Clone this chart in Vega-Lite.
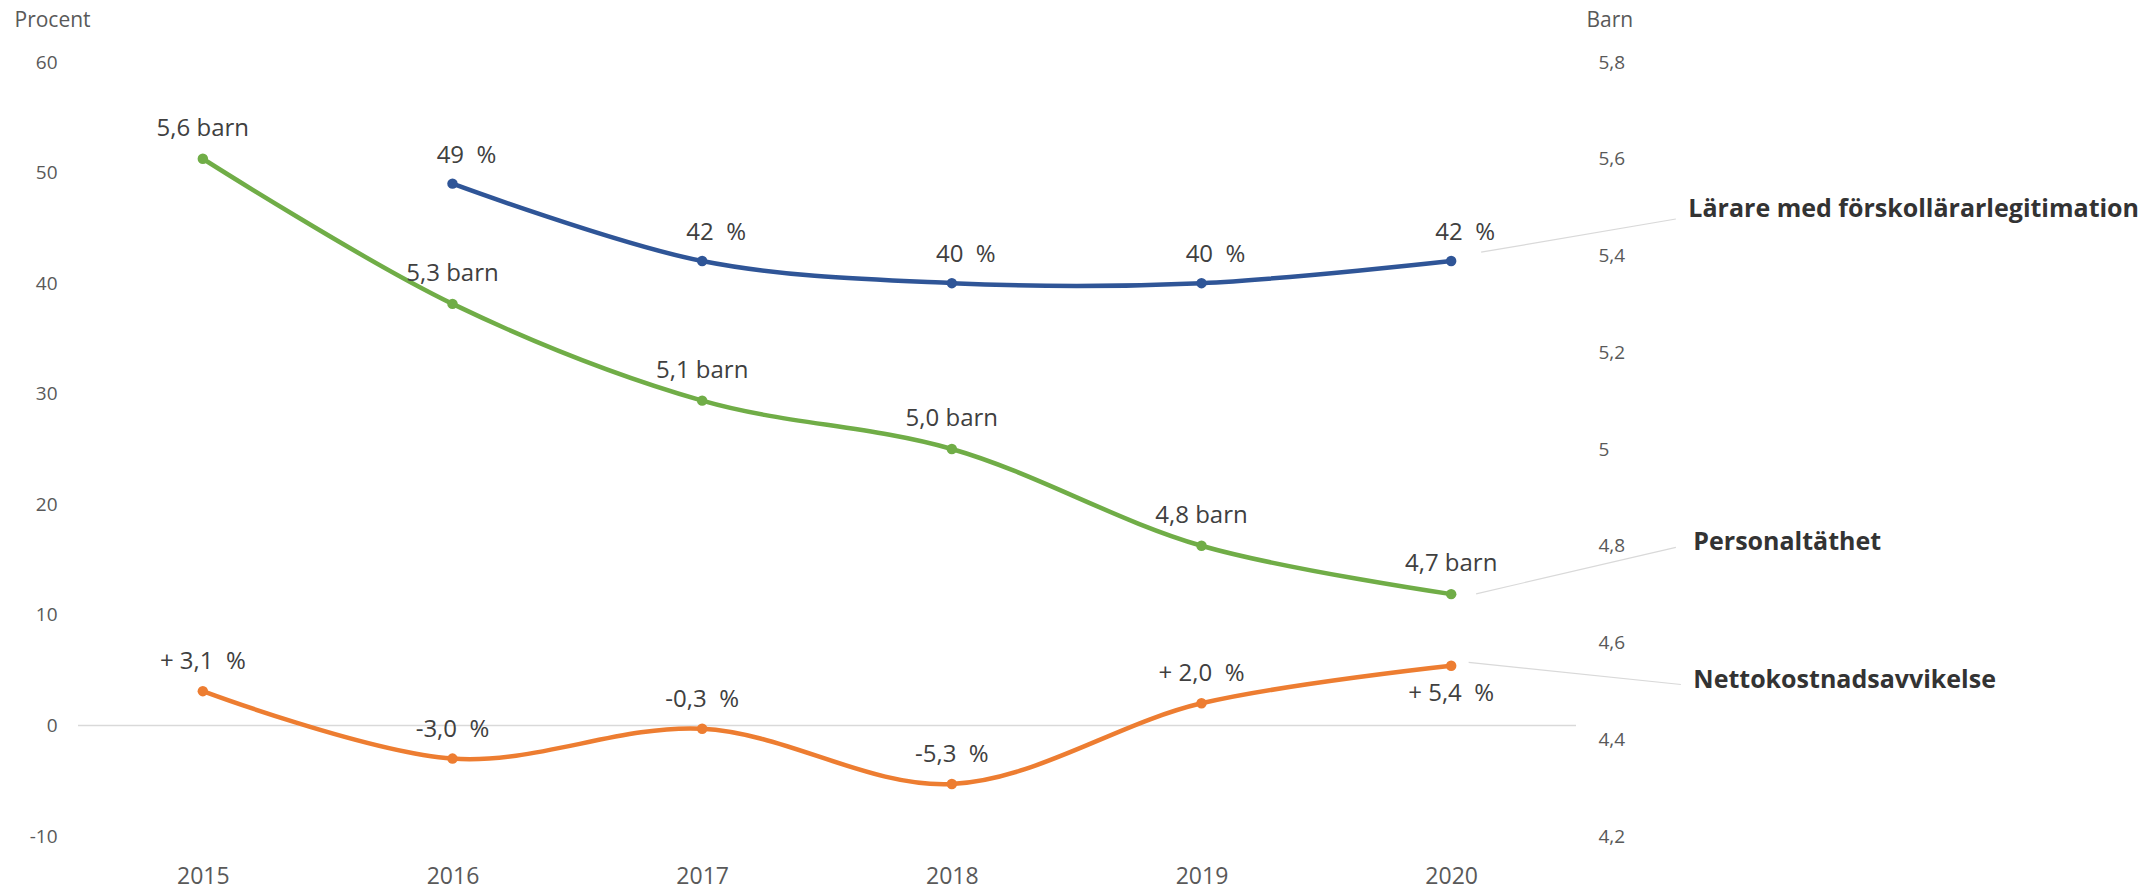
{
  "$schema": "https://vega.github.io/schema/vega-lite/v6.json",
  "width": 1498,
  "height": 774,
  "autosize": {"type": "none"},
  "padding": {"left": 78, "top": 62, "right": 570, "bottom": 57},
  "background": "white",
  "config": {"view": {"stroke": null}, "font": "Open Sans"},
  "datasets": {
    "one": [{"k": 1}],
    "d": [
      {"year": 2016, "serie": "Lärare med förskollärarlegitimation", "value": 49, "label": "49 \u00a0%"},
      {"year": 2017, "serie": "Lärare med förskollärarlegitimation", "value": 42, "label": "42 \u00a0%"},
      {"year": 2018, "serie": "Lärare med förskollärarlegitimation", "value": 40, "label": "40 \u00a0%"},
      {"year": 2019, "serie": "Lärare med förskollärarlegitimation", "value": 40, "label": "40 \u00a0%"},
      {"year": 2020, "serie": "Lärare med förskollärarlegitimation", "value": 42, "label": "42 \u00a0%"},
      {"year": 2015, "serie": "Nettokostnadsavvikelse", "value": 3.1, "label": "+ 3,1 \u00a0%"},
      {"year": 2016, "serie": "Nettokostnadsavvikelse", "value": -3.0, "label": "-3,0 \u00a0%"},
      {"year": 2017, "serie": "Nettokostnadsavvikelse", "value": -0.3, "label": "-0,3 \u00a0%"},
      {"year": 2018, "serie": "Nettokostnadsavvikelse", "value": -5.3, "label": "-5,3 \u00a0%"},
      {"year": 2019, "serie": "Nettokostnadsavvikelse", "value": 2.0, "label": "+ 2,0 \u00a0%"},
      {"year": 2020, "serie": "Nettokostnadsavvikelse", "value": 5.4, "label": "+ 5,4 \u00a0%"},
      {"year": 2015, "serie": "Personaltäthet", "value": 5.6, "label": "5,6 barn"},
      {"year": 2016, "serie": "Personaltäthet", "value": 5.3, "label": "5,3 barn"},
      {"year": 2017, "serie": "Personaltäthet", "value": 5.1, "label": "5,1 barn"},
      {"year": 2018, "serie": "Personaltäthet", "value": 5.0, "label": "5,0 barn"},
      {"year": 2019, "serie": "Personaltäthet", "value": 4.8, "label": "4,8 barn"},
      {"year": 2020, "serie": "Personaltäthet", "value": 4.7, "label": "4,7 barn"}
    ]
  },
  "layer": [
    {
      "layer": [
        {
          "data": {"name": "d"},
          "transform": [{"filter": "datum.serie === 'Lärare med förskollärarlegitimation'"}],
          "mark": {"type": "line", "color": "#2F5597", "strokeWidth": 4.5, "interpolate": "catmull-rom"},
          "encoding": {
            "x": {
              "field": "year", "type": "quantitative",
              "scale": {"domain": [2014.5, 2020.5], "nice": false, "zero": false},
              "axis": {
                "values": [2015, 2016, 2017, 2018, 2019, 2020], "format": "d",
                "grid": false, "domain": false, "ticks": false,
                "labelFontSize": 23, "labelColor": "#595959", "labelPadding": 29, "title": null
              }
            },
            "y": {
              "field": "value", "type": "quantitative",
              "scale": {"domain": [-10, 60], "nice": false, "zero": false},
              "axis": {
                "values": [-10, 0, 10, 20, 30, 40, 50, 60],
                "labelExpr": "toString(datum.value)",
                "grid": false, "domain": false, "ticks": false,
                "labelFontSize": 19, "labelColor": "#595959", "labelPadding": 21,
                "title": "Procent", "titleAngle": 0, "titleAlign": "left", "titleBaseline": "middle",
                "titleX": -64, "titleY": -42, "titleFontSize": 21, "titleFontWeight": "normal", "titleColor": "#595959"
              }
            }
          }
        },
        {
          "data": {"name": "one"},
          "mark": {"type": "rule", "color": "#d9d9d9", "strokeWidth": 1.5},
          "encoding": {
            "x": {"datum": 2014.5, "type": "quantitative"},
            "x2": {"datum": 2020.5},
            "y": {"datum": 0, "type": "quantitative"}
          }
        },
        {
          "data": {"name": "d"},
          "transform": [{"filter": "datum.serie === 'Lärare med förskollärarlegitimation'"}],
          "mark": {"type": "point", "filled": true, "opacity": 1, "color": "#2F5597", "size": 110},
          "encoding": {"x": {"field": "year", "type": "quantitative"}, "y": {"field": "value", "type": "quantitative"}}
        },
        {
          "data": {"name": "d"},
          "transform": [{"filter": "datum.serie === 'Lärare med förskollärarlegitimation'"}],
          "mark": {"type": "text", "fontSize": 24, "color": "#404040", "dy": -28, "dx": 14, "baseline": "middle"},
          "encoding": {"x": {"field": "year", "type": "quantitative"}, "y": {"field": "value", "type": "quantitative"}, "text": {"field": "label"}}
        },
        {
          "data": {"name": "d"},
          "transform": [{"filter": "datum.serie === 'Nettokostnadsavvikelse'"}],
          "mark": {"type": "line", "color": "#ED7D31", "strokeWidth": 4.5, "interpolate": "catmull-rom"},
          "encoding": {"x": {"field": "year", "type": "quantitative"}, "y": {"field": "value", "type": "quantitative"}}
        },
        {
          "data": {"name": "d"},
          "transform": [{"filter": "datum.serie === 'Nettokostnadsavvikelse'"}],
          "mark": {"type": "point", "filled": true, "opacity": 1, "color": "#ED7D31", "size": 110},
          "encoding": {"x": {"field": "year", "type": "quantitative"}, "y": {"field": "value", "type": "quantitative"}}
        },
        {
          "data": {"name": "d"},
          "transform": [{"filter": "datum.serie === 'Nettokostnadsavvikelse' && datum.year < 2020"}],
          "mark": {"type": "text", "fontSize": 24, "color": "#404040", "dy": -29, "baseline": "middle"},
          "encoding": {"x": {"field": "year", "type": "quantitative"}, "y": {"field": "value", "type": "quantitative"}, "text": {"field": "label"}}
        },
        {
          "data": {"name": "d"},
          "transform": [{"filter": "datum.serie === 'Nettokostnadsavvikelse' && datum.year === 2020"}],
          "mark": {"type": "text", "fontSize": 24, "color": "#404040", "dy": 28, "baseline": "middle"},
          "encoding": {"x": {"field": "year", "type": "quantitative"}, "y": {"field": "value", "type": "quantitative"}, "text": {"field": "label"}}
        },
        {
          "data": {"name": "one"},
          "mark": {"type": "rule", "color": "#d9d9d9", "strokeWidth": 1.2},
          "encoding": {
            "x": {"datum": 2020.12, "type": "quantitative"}, "x2": {"datum": 2020.9},
            "y": {"datum": 42.8, "type": "quantitative"}, "y2": {"datum": 45.8}
          }
        },
        {
          "data": {"name": "one"},
          "mark": {"type": "rule", "color": "#d9d9d9", "strokeWidth": 1.2},
          "encoding": {
            "x": {"datum": 2020.1, "type": "quantitative"}, "x2": {"datum": 2020.9},
            "y": {"datum": 11.9, "type": "quantitative"}, "y2": {"datum": 16.1}
          }
        },
        {
          "data": {"name": "one"},
          "mark": {"type": "rule", "color": "#d9d9d9", "strokeWidth": 1.2},
          "encoding": {
            "x": {"datum": 2020.07, "type": "quantitative"}, "x2": {"datum": 2020.92},
            "y": {"datum": 5.7, "type": "quantitative"}, "y2": {"datum": 3.7}
          }
        },
        {
          "data": {"name": "one"},
          "mark": {"type": "text", "fontSize": 25, "fontWeight": "bold", "color": "#333333", "align": "left", "baseline": "middle"},
          "encoding": {
            "x": {"datum": 2020.95, "type": "quantitative"},
            "y": {"datum": 46.7, "type": "quantitative"},
            "text": {"value": "Lärare med förskollärarlegitimation"}
          }
        },
        {
          "data": {"name": "one"},
          "mark": {"type": "text", "fontSize": 25, "fontWeight": "bold", "color": "#333333", "align": "left", "baseline": "middle"},
          "encoding": {
            "x": {"datum": 2020.97, "type": "quantitative"},
            "y": {"datum": 16.6, "type": "quantitative"},
            "text": {"value": "Personaltäthet"}
          }
        },
        {
          "data": {"name": "one"},
          "mark": {"type": "text", "fontSize": 25, "fontWeight": "bold", "color": "#333333", "align": "left", "baseline": "middle"},
          "encoding": {
            "x": {"datum": 2020.97, "type": "quantitative"},
            "y": {"datum": 4.1, "type": "quantitative"},
            "text": {"value": "Nettokostnadsavvikelse"}
          }
        }
      ]
    },
    {
      "data": {"name": "d"},
      "transform": [{"filter": "datum.serie === 'Personaltäthet'"}],
      "encoding": {
        "x": {"field": "year", "type": "quantitative"},
        "y": {
          "field": "value", "type": "quantitative",
          "scale": {"domain": [4.2, 5.8], "nice": false, "zero": false},
          "axis": {
            "orient": "right",
            "values": [4.2, 4.4, 4.6, 4.8, 5.0, 5.2, 5.4, 5.6, 5.8],
            "labelExpr": "replace(format(datum.value, '.1~f'), '.', ',')",
            "grid": false, "domain": false, "ticks": false,
            "labelFontSize": 19, "labelColor": "#595959", "labelPadding": 22,
            "title": "Barn", "titleAngle": 0, "titleAlign": "left", "titleBaseline": "middle",
            "titleX": 10, "titleY": -42, "titleFontSize": 21, "titleFontWeight": "normal", "titleColor": "#595959"
          }
        }
      },
      "layer": [
        {"mark": {"type": "line", "color": "#70AD47", "strokeWidth": 4.5, "interpolate": "catmull-rom"}},
        {"mark": {"type": "point", "filled": true, "opacity": 1, "color": "#70AD47", "size": 110}},
        {
          "mark": {"type": "text", "fontSize": 24, "color": "#404040", "dy": -30, "baseline": "middle"},
          "encoding": {"text": {"field": "label"}}
        }
      ]
    }
  ],
  "resolve": {"scale": {"y": "independent"}}
}
